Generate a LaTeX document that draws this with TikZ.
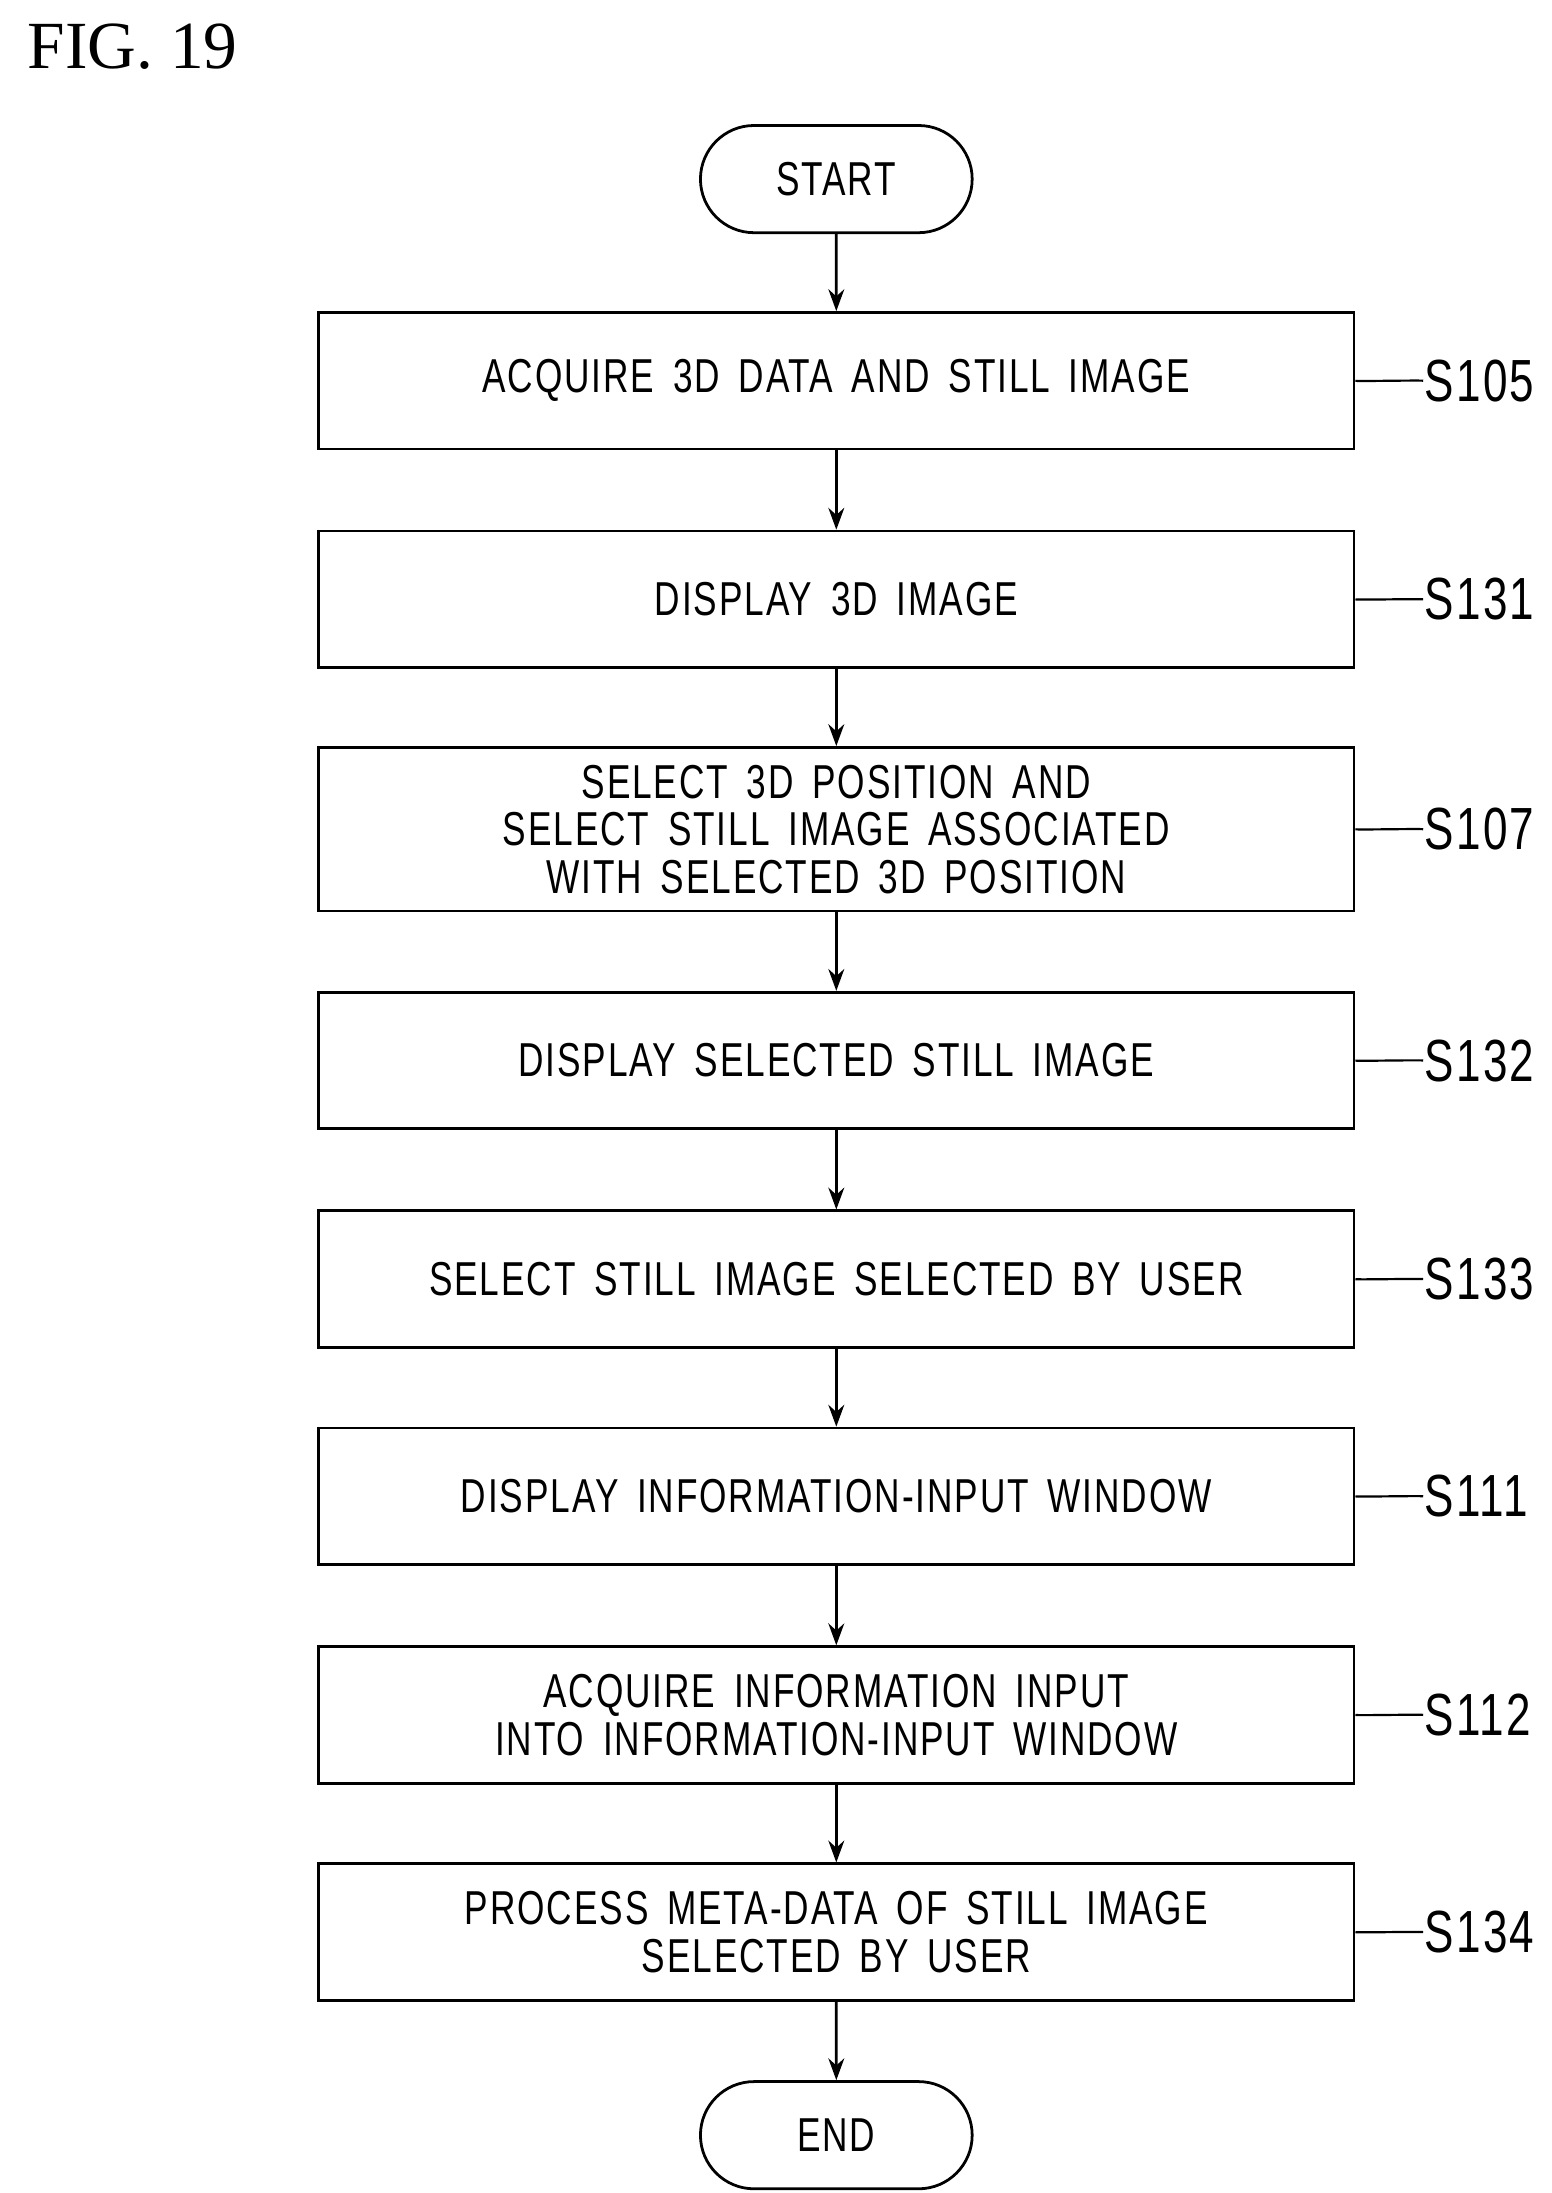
\documentclass[tikz,border=0pt]{standalone}
\usepackage{fontspec}
\setmainfont{Liberation Serif}
\newfontfamily\flowfont[FakeStretch=0.74,WordSpace=1.6,LetterSpace=4]{Liberation Sans}
\usetikzlibrary{arrows.meta,shapes.misc}

\begin{document}
\begin{tikzpicture}[x=0.025cm,y=-0.025cm,
  line width=1.4pt,
  stepbox/.style={draw,minimum width=18.35cm,align=center,font=\flowfont\fontsize{24}{24}\selectfont},
  termbox/.style={draw,rounded rectangle,minimum width=5.05cm,minimum height=1.9cm,font=\flowfont\fontsize{24}{24}\selectfont},
  steplabel/.style={anchor=west,inner sep=0pt,font=\flowfont\fontsize{30}{30}\selectfont},
  >={Stealth[length=11pt,width=8pt]}]
\useasboundingbox (0,0) rectangle (1100,1555);

\node[anchor=west,font=\fontsize{34}{34}\selectfont] (fig) at (14,33) {FIG. 19};

\node[termbox] (start) at (593,127) {START};
\node[stepbox,minimum height=2.42cm] (s105) at (593,270) {ACQUIRE 3D DATA AND STILL IMAGE};
\node[stepbox,minimum height=2.42cm] (s131) at (593,425) {DISPLAY 3D IMAGE};
\node[stepbox,minimum height=2.9cm] (s107) at (593,588) {SELECT 3D POSITION AND\\SELECT STILL IMAGE ASSOCIATED\\WITH SELECTED 3D POSITION};
\node[stepbox,minimum height=2.42cm] (s132) at (593,752) {DISPLAY SELECTED STILL IMAGE};
\node[stepbox,minimum height=2.42cm] (s133) at (593,907) {SELECT STILL IMAGE SELECTED BY USER};
\node[stepbox,minimum height=2.42cm] (s111) at (593,1061) {DISPLAY INFORMATION-INPUT WINDOW};
\node[stepbox,minimum height=2.42cm] (s112) at (593,1216) {ACQUIRE INFORMATION INPUT\\INTO INFORMATION-INPUT WINDOW};
\node[stepbox,minimum height=2.42cm] (s134) at (593,1370) {PROCESS META-DATA OF STILL IMAGE\\SELECTED BY USER};
\node[termbox] (end) at (593,1514) {END};

% step arrows
\foreach \a/\b in {start/s105,s105/s131,s131/s107,s107/s132,s132/s133,s133/s111,s111/s112,s112/s134,s134/end}
  \draw[->] (\a) -- (\b);

% step labels
\foreach \s/\t in {s105/S105,s131/S131,s107/S107,s132/S132,s133/S133,s111/S111,s112/S112,s134/S134}{
  \node[steplabel] (l\s) at ([xshift=1.2cm]\s.east) {\t};
  \draw[line width=1.1pt] (\s.east) .. controls +(0.45,0.5) and +(-0.45,-0.5) .. (l\s.west);
}
\end{tikzpicture}
\end{document}
